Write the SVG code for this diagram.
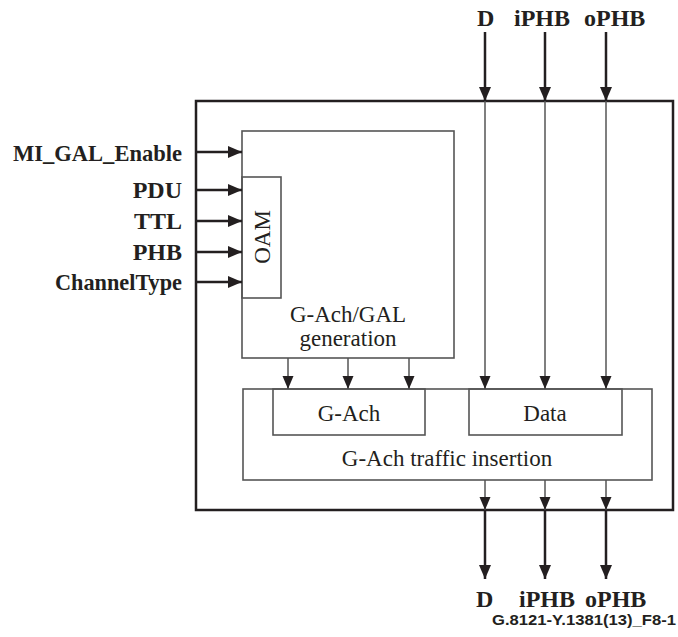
<svg xmlns="http://www.w3.org/2000/svg" width="678" height="637" viewBox="0 0 678 637">
<style>
.lbl{font-family:"Liberation Serif","Times New Roman",serif;font-weight:bold;font-size:24px;fill:#231f20}
.in{font-family:"Liberation Serif","Times New Roman",serif;font-size:23px;fill:#231f20}
.cap{font-family:"Liberation Sans",Arial,sans-serif;font-weight:bold;font-size:14px;fill:#231f20}
.outer{fill:none;stroke:#231f20;stroke-width:2.5}
.box{fill:none;stroke:#555;stroke-width:1.6}
.thick{stroke:#231f20;stroke-width:2.5;fill:none}
.thin{stroke:#555;stroke-width:1.5;fill:none}
</style>
<defs>
<marker id="ah" markerUnits="userSpaceOnUse" markerWidth="14" markerHeight="14" refX="14" refY="7" orient="auto"><path d="M0,1 L14,7 L0,13 z" fill="#231f20"/></marker>
<marker id="as" markerUnits="userSpaceOnUse" markerWidth="13" markerHeight="12" refX="13" refY="6" orient="auto"><path d="M0,0.5 L13,6 L0,11.5 z" fill="#231f20"/></marker>
</defs>
<rect width="678" height="637" fill="#fff"/>
<g id="outer"><rect class="outer" x="196" y="101" width="477" height="409"/></g>
<g id="gal"><rect class="box" x="242" y="131" width="212" height="227"/>
<text class="in" x="348" y="322" text-anchor="middle">G-Ach/GAL</text>
<text class="in" x="348" y="346" text-anchor="middle">generation</text></g>
<g id="oam"><rect class="box" x="242" y="177" width="39" height="121"/>
<text class="in" transform="translate(270,237) rotate(-90)" text-anchor="middle">OAM</text></g>
<g id="insertion"><rect class="box" x="243" y="389" width="409" height="91"/>
<text class="in" x="447" y="466" text-anchor="middle">G-Ach traffic insertion</text></g>
<g id="gach"><rect class="box" x="273" y="389" width="152" height="46"/>
<text class="in" x="349" y="421" text-anchor="middle">G-Ach</text></g>
<g id="data"><rect class="box" x="469" y="389" width="153" height="46"/>
<text class="in" x="545" y="421" text-anchor="middle">Data</text></g>
<g id="labels">
<text class="lbl" x="13" y="161" textLength="169" lengthAdjust="spacingAndGlyphs">MI_GAL_Enable</text>
<text class="lbl" x="182" y="198" text-anchor="end">PDU</text>
<text class="lbl" x="182" y="229" text-anchor="end">TTL</text>
<text class="lbl" x="182" y="260" text-anchor="end">PHB</text>
<text class="lbl" x="55" y="290" textLength="127" lengthAdjust="spacingAndGlyphs">ChannelType</text>
<text class="lbl" x="477" y="26">D</text>
<text class="lbl" x="514" y="26">iPHB</text>
<text class="lbl" x="584" y="26">oPHB</text>
<text class="lbl" x="476" y="607">D</text>
<text class="lbl" x="519" y="607">iPHB</text>
<text class="lbl" x="585" y="607">oPHB</text>
<text class="cap" x="676" y="625" text-anchor="end" textLength="184" lengthAdjust="spacingAndGlyphs">G.8121-Y.1381(13)_F8-1</text>
</g>
<g id="connectors">
<line class="thick" x1="196" y1="152" x2="242" y2="152" marker-end="url(#ah)"/>
<line class="thick" x1="196" y1="190" x2="242" y2="190" marker-end="url(#ah)"/>
<line class="thick" x1="196" y1="221" x2="242" y2="221" marker-end="url(#ah)"/>
<line class="thick" x1="196" y1="252" x2="242" y2="252" marker-end="url(#ah)"/>
<line class="thick" x1="196" y1="282" x2="242" y2="282" marker-end="url(#ah)"/>
<line class="thick" x1="485" y1="32" x2="485" y2="101" marker-end="url(#ah)"/>
<line class="thick" x1="545" y1="32" x2="545" y2="101" marker-end="url(#ah)"/>
<line class="thick" x1="606" y1="32" x2="606" y2="101" marker-end="url(#ah)"/>
<line class="thin" x1="485" y1="101" x2="485" y2="389" marker-end="url(#as)"/>
<line class="thin" x1="545" y1="101" x2="545" y2="389" marker-end="url(#as)"/>
<line class="thin" x1="606" y1="101" x2="606" y2="389" marker-end="url(#as)"/>
<line class="thin" x1="288" y1="358" x2="288" y2="389" marker-end="url(#as)"/>
<line class="thin" x1="348" y1="358" x2="348" y2="389" marker-end="url(#as)"/>
<line class="thin" x1="409" y1="358" x2="409" y2="389" marker-end="url(#as)"/>
<line class="thin" x1="485" y1="480" x2="485" y2="510" marker-end="url(#as)"/>
<line class="thin" x1="545" y1="480" x2="545" y2="510" marker-end="url(#as)"/>
<line class="thin" x1="606" y1="480" x2="606" y2="510" marker-end="url(#as)"/>
<line class="thick" x1="485" y1="510" x2="485" y2="579" marker-end="url(#ah)"/>
<line class="thick" x1="545" y1="510" x2="545" y2="579" marker-end="url(#ah)"/>
<line class="thick" x1="606" y1="510" x2="606" y2="579" marker-end="url(#ah)"/>
</g>
</svg>
